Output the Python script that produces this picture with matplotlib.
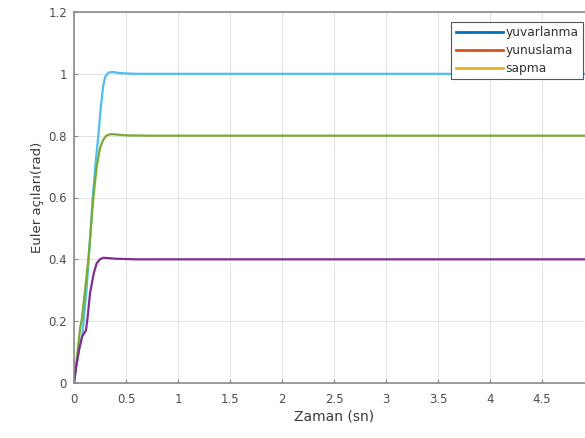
import matplotlib
matplotlib.use("Agg")
import matplotlib.pyplot as plt
from matplotlib.lines import Line2D

plt.rcParams['font.family'] = ['DejaVu Sans']

# Time (s) and Euler angle responses (rad)
t_roll = [0.0, 0.02, 0.05, 0.08, 0.12, 0.154, 0.18, 0.21, 0.234, 0.26, 0.28, 0.30, 0.33, 0.37, 0.45, 0.6, 1.0, 2.0, 3.0, 4.0, 5.0]
roll   = [0.0, 0.05, 0.11, 0.155, 0.30, 0.46, 0.60, 0.72, 0.80, 0.90, 0.96, 0.99, 1.004, 1.006, 1.002, 1.0, 1.0, 1.0, 1.0, 1.0, 1.0]

t_pitch = [0.0, 0.03, 0.06, 0.074, 0.10, 0.138, 0.186, 0.218, 0.25, 0.28, 0.31, 0.35, 0.40, 0.5, 0.7, 1.0, 2.0, 3.0, 4.0, 5.0]
pitch   = [0.0, 0.09, 0.18, 0.204, 0.28, 0.40, 0.60, 0.70, 0.76, 0.786, 0.80, 0.805, 0.804, 0.801, 0.80, 0.80, 0.80, 0.80, 0.80, 0.80]

t_yaw = [0.0, 0.02, 0.05, 0.08, 0.10, 0.115, 0.13, 0.154, 0.19, 0.218, 0.25, 0.28, 0.33, 0.40, 0.6, 1.0, 2.0, 3.0, 4.0, 5.0]
yaw   = [0.0, 0.05, 0.11, 0.152, 0.162, 0.17, 0.21, 0.29, 0.355, 0.387, 0.40, 0.405, 0.404, 0.402, 0.40, 0.40, 0.40, 0.40, 0.40, 0.40]

legend_labels = ['yuvarlanma', 'yunuslama', 'sapma']
legend_colors = ['#0072BD', '#D95319', '#EDB120']

xticks = [0, 0.5, 1, 1.5, 2, 2.5, 3, 3.5, 4, 4.5]
xticklabels = ['0', '0.5', '1', '1.5', '2', '2.5', '3', '3.5', '4', '4.5']
yticks = [0, 0.2, 0.4, 0.6, 0.8, 1.0, 1.2]
yticklabels = ['0', '0.2', '0.4', '0.6', '0.8', '1', '1.2']

W, H = 585, 438
fig = plt.figure(figsize=(W / 100, H / 100), dpi=100)
left, right, top, bottom = 74, 594, 12, 383
ax = fig.add_axes([left / W, (H - bottom) / H, (right - left) / W, (bottom - top) / H])

ax.plot(t_roll, roll, color='#4DBEEE', lw=1.6)
ax.plot(t_pitch, pitch, color='#77AC30', lw=1.6)
ax.plot(t_yaw, yaw, color='#7E2F8E', lw=1.6)

ax.set_xlim(0, 5)
ax.set_ylim(0, 1.2)
ax.set_xticks(xticks)
ax.set_xticklabels(xticklabels)
ax.set_yticks(yticks)
ax.set_yticklabels(yticklabels)
ax.grid(True, color='#e3e3e3', lw=0.8)
ax.set_axisbelow(True)
for s in ax.spines.values():
    s.set_color('#8a8a8a')
    s.set_linewidth(1.2)
ax.tick_params(direction='in', length=3, color='#8a8a8a', labelcolor='#4d4d4d', labelsize=8.5)
ax.tick_params(axis='x', pad=7)
ax.tick_params(axis='y', pad=5)
ax.set_xlabel('Zaman (sn)', fontsize=10, color='#3a3a3a', labelpad=3)
ax.set_ylabel('Euler açıları(rad)', fontsize=9.5, color='#3a3a3a', labelpad=3)

handles = [Line2D([0], [0], color=c, lw=2) for c in legend_colors]
leg = fig.legend(handles, legend_labels, loc='upper right', bbox_to_anchor=(583 / W, 1 - 22 / H),
                 borderaxespad=0, fontsize=8.8, handlelength=3.9, handletextpad=0.2,
                 borderpad=0.35, labelspacing=0.4, labelcolor='#333333',
                 frameon=True, fancybox=False, edgecolor='#555555', framealpha=1)
leg.get_frame().set_linewidth(0.8)

fig.savefig('out.png', dpi=100)
